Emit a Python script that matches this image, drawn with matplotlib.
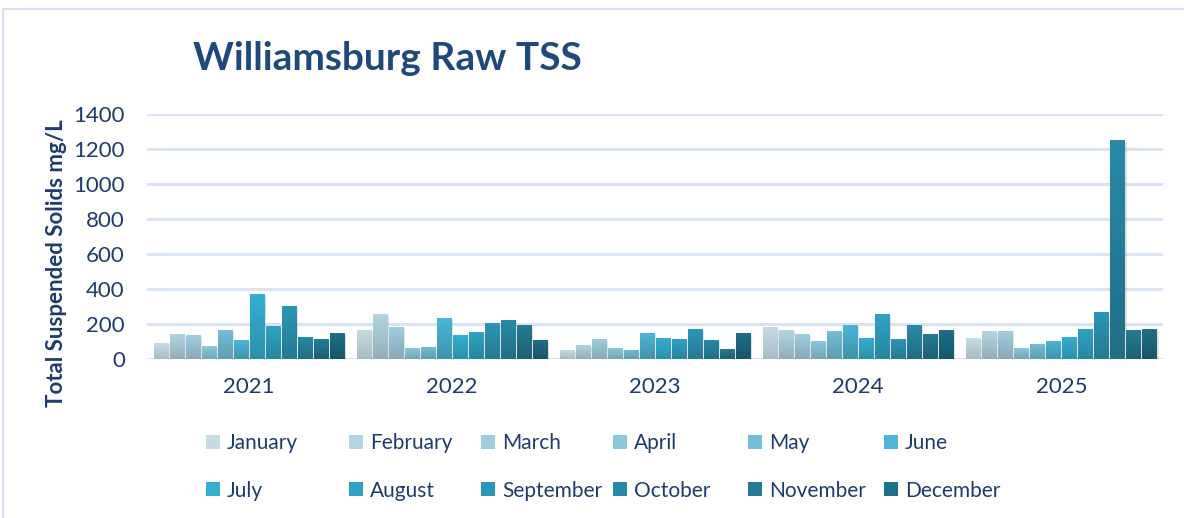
import matplotlib
matplotlib.use("Agg")
import matplotlib.pyplot as plt
import matplotlib.patheffects as pe
import numpy as np
from matplotlib.patches import Rectangle
from matplotlib.colors import LinearSegmentedColormap

years = ["2021", "2022", "2023", "2024", "2025"]
months = ["January", "February", "March", "April", "May", "June",
          "July", "August", "September", "October", "November", "December"]

# values[month][year]
jan = [91, 168, 53, 185, 120]
feb = [143, 259, 82, 168, 160]
mar = [137, 185, 116, 145, 160]
apr = [74, 65, 65, 105, 63]
may = [166, 70, 53, 162, 86]
jun = [109, 236, 150, 196, 103]
jul = [371, 139, 122, 122, 126]
aug = [189, 156, 116, 259, 171]
sep = [303, 208, 173, 116, 269]
oct_ = [126, 225, 110, 196, 1251]
nov = [114, 196, 59, 145, 166]
dec = [149, 110, 150, 168, 171]
series = [jan, feb, mar, apr, may, jun, jul, aug, sep, oct_, nov, dec]

yticks = [0, 200, 400, 600, 800, 1000, 1200, 1400]

tops = ["#c6dce4", "#b3d6e3", "#a1cfe0", "#8ec8dd", "#75bed9", "#4cb7d9",
        "#33afd3", "#2fa3c6", "#2b97b7", "#288aa8", "#247b95", "#1e6f88"]
bots = ["#a8bcc4", "#93aebb", "#86a9b8", "#72a6b7", "#5f9db3", "#3e93ad",
        "#2a91ad", "#2686a1", "#247a93", "#216e87", "#1d6075", "#17566a"]

plt.rcParams['font.family'] = ['Lato', 'DejaVu Sans']
W, H = 1184, 518
fig = plt.figure(figsize=(W / 100, H / 100), dpi=100)
fig.patch.set_facecolor("white")

ax = fig.add_axes([147 / W, (H - 359) / H, 1016 / W, 245 / H])

slot = 16 / 203
bw = 14 / 203
x = np.arange(len(years))
grad = np.linspace(1, 0, 64).reshape(-1, 1)
for i, (m, vals) in enumerate(zip(months, series)):
    bars = ax.bar(x + (i - 5.5) * slot, vals, width=bw, color=tops[i], zorder=3, label=m,
                  linewidth=0)
    cmap = LinearSegmentedColormap.from_list(f"g{i}", [bots[i], tops[i]])
    for b in bars:
        b.set_path_effects([pe.SimplePatchShadow(offset=(1.5, -1.5), shadow_rgbFace='#888888',
                                                 alpha=0.25), pe.Normal()])
        x0, y0 = b.get_x(), b.get_y()
        im = ax.imshow(grad, extent=[x0, x0 + b.get_width(), y0, y0 + b.get_height()],
                       cmap=cmap, aspect='auto', zorder=4, vmin=0, vmax=1,
                       interpolation='bilinear', origin='upper')
        im.set_clip_path(b)

ax.set_xlim(-0.5, len(years) - 0.5)
ax.set_ylim(0, 1400)
ax.set_yticks(yticks)
ax.set_xticks(x)
ax.set_xticklabels(years)
ax.yaxis.grid(True, color="#d9e3f3", linewidth=2.2, zorder=0)
ax.set_axisbelow(True)
for s in ax.spines.values():
    s.set_visible(False)
ax.tick_params(axis='both', length=0, labelsize=16, labelcolor="#1f3b6e")
ax.tick_params(axis='y', pad=16)
ax.tick_params(axis='x', pad=13)

ax.set_ylabel("Total Suspended Solids mg/L", fontsize=16, fontweight='bold',
              color="#1f3b6e")
ax.yaxis.set_label_coords(-80 / 1016, 0.39)

fig.text(193 / W, (H - 70) / H, "Williamsburg Raw TSS", fontsize=28, fontweight='bold',
         color="#1f497d", ha='left', va='baseline')

# legend: six columns of two entries
col_x = [206, 349, 481, 613, 748, 884]
for c in range(6):
    hs = [Rectangle((0, 0), 1, 1, facecolor=tops[c], edgecolor='none'),
          Rectangle((0, 0), 1, 1, facecolor=tops[c + 6], edgecolor='none')]
    leg = fig.legend(hs, [months[c], months[c + 6]], loc='center left',
                     bbox_to_anchor=(col_x[c] / W, (H - 467) / H), frameon=False,
                     fontsize=15, handlelength=0.67, handleheight=0.67,
                     handletextpad=0.35, borderpad=0, borderaxespad=0,
                     labelspacing=1.3)
    for t in leg.get_texts():
        t.set_color("#1f3b6e")

# figure border
fig.add_artist(Rectangle((3 / W, -0.1), 1.2, (H - 9) / H + 0.1, transform=fig.transFigure,
                         fill=False, edgecolor="#d6e0f0", linewidth=1.5))

fig.savefig("out.png", dpi=100)
